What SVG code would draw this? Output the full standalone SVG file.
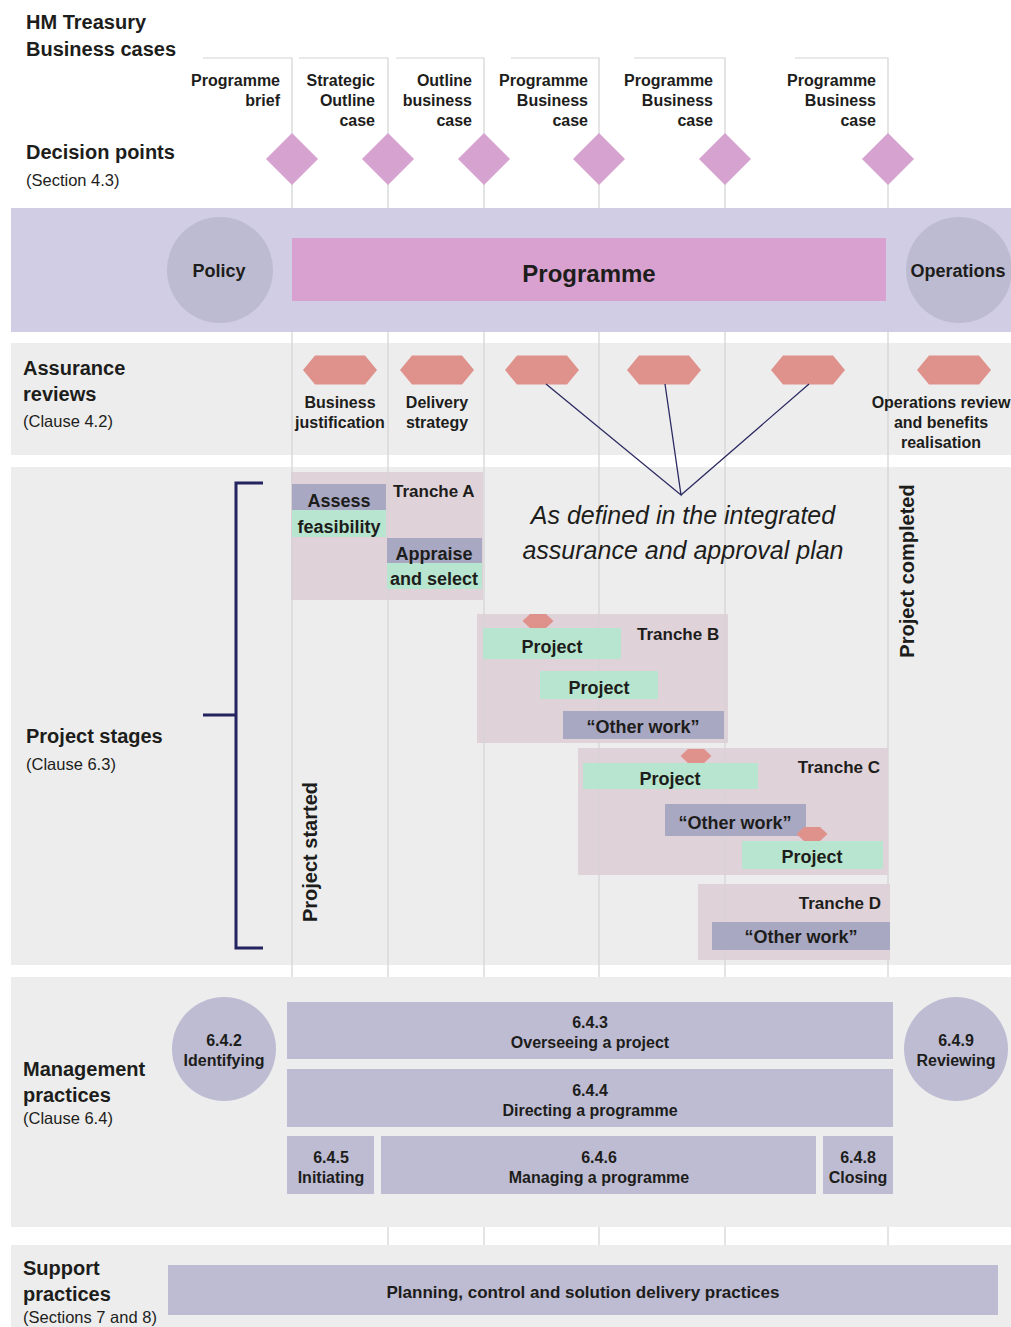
<svg xmlns="http://www.w3.org/2000/svg" width="1011" height="1327" viewBox="0 0 1011 1327">
<style>
text{font-family:"Liberation Sans",Arial,sans-serif;fill:#1d1d1b}
.h{font-size:20px;font-weight:bold}
.sub{font-size:16.5px}
.col{font-size:16px;font-weight:bold;text-anchor:end}
.lbl{font-size:16px;font-weight:bold;text-anchor:middle}
.box{font-size:18px;font-weight:bold;text-anchor:middle}
.tr{font-size:17px;font-weight:bold}
.band{fill:#ededed}
.grid{stroke:#d3d3d3;stroke-width:1.2;fill:none}
.dia{fill:#d6a2cf}
.hex{fill:#df928b}
.tranche{fill:#e0d2d9}
.grey{fill:#a9a8c3}
.green{fill:#b8e5cf}
.mg{fill:#bebcd3}
.circ{fill:#bdbbd1}
</style>
<defs>
<polygon id="hx" points="-37,0 -25,-14.5 25,-14.5 37,0 25,14.5 -25,14.5"/>
<polygon id="hxs" points="-15.5,0 -8,-7 8,-7 15.5,0 8,7 -8,7"/>
<polygon id="dm" points="0,-26 26,0 0,26 -26,0"/>
</defs>

<!-- band backgrounds under grid -->
<rect class="band" x="11" y="343" width="1000" height="112"/>
<rect class="band" x="11" y="467" width="1000" height="498"/>

<g id="grid">
<path class="grid" d="M203,58H292V977M299,58H388V1245M396,58H484V1245M511,58H599V1245M634,58H725V1245M795,58H888V1245"/>
</g>

<!-- headings -->
<g id="headings">
<text class="h" x="26" y="29">HM Treasury</text>
<text class="h" x="26" y="56">Business cases</text>
<text class="h" x="26" y="159">Decision points</text>
<text class="sub" x="26" y="186">(Section 4.3)</text>
</g>

<g id="business-cases">
<text class="col" x="280" y="86">Programme</text><text class="col" x="280" y="106">brief</text>
<text class="col" x="375" y="86">Strategic</text><text class="col" x="375" y="106">Outline</text><text class="col" x="375" y="126">case</text>
<text class="col" x="472" y="86">Outline</text><text class="col" x="472" y="106">business</text><text class="col" x="472" y="126">case</text>
<text class="col" x="588" y="86">Programme</text><text class="col" x="588" y="106">Business</text><text class="col" x="588" y="126">case</text>
<text class="col" x="713" y="86">Programme</text><text class="col" x="713" y="106">Business</text><text class="col" x="713" y="126">case</text>
<text class="col" x="876" y="86">Programme</text><text class="col" x="876" y="106">Business</text><text class="col" x="876" y="126">case</text>
</g>

<g id="decision-points">
<use href="#dm" class="dia" x="292" y="159"/>
<use href="#dm" class="dia" x="388" y="159"/>
<use href="#dm" class="dia" x="484" y="159"/>
<use href="#dm" class="dia" x="599" y="159"/>
<use href="#dm" class="dia" x="725" y="159"/>
<use href="#dm" class="dia" x="888" y="159"/>
</g>

<!-- Programme band -->
<g id="programme-band">
<rect x="11" y="208" width="1000" height="124" fill="#d0cde5"/>
<circle class="circ" cx="220" cy="270" r="53"/>
<text x="219" y="277" font-size="18" font-weight="bold" text-anchor="middle">Policy</text>
<rect x="292" y="238" width="594" height="63" fill="#d8a1cf"/>
<text x="589" y="282" font-size="24" font-weight="bold" text-anchor="middle">Programme</text>
<circle class="circ" cx="959" cy="270" r="53"/>
<text x="958" y="277" font-size="18" font-weight="bold" text-anchor="middle">Operations</text>
</g>

<!-- Assurance -->
<g id="assurance">
<text class="h" x="23" y="375">Assurance</text>
<text class="h" x="23" y="401">reviews</text>
<text class="sub" x="23" y="427">(Clause 4.2)</text>
<use href="#hx" class="hex" x="340" y="370"/>
<use href="#hx" class="hex" x="437" y="370"/>
<use href="#hx" class="hex" x="542" y="370"/>
<use href="#hx" class="hex" x="664" y="370"/>
<use href="#hx" class="hex" x="808" y="370"/>
<use href="#hx" class="hex" x="954" y="370"/>
<text class="lbl" x="340" y="408">Business</text><text class="lbl" x="340" y="428">justification</text>
<text class="lbl" x="437" y="408">Delivery</text><text class="lbl" x="437" y="428">strategy</text>
<text class="lbl" x="941" y="408">Operations review</text><text class="lbl" x="941" y="428">and benefits</text><text class="lbl" x="941" y="448">realisation</text>
</g>

<g id="connectors" stroke="#2b2a62" stroke-width="1.3" fill="none">
<path d="M546,384L681,495L665,384M681,495L809,384"/>
</g>

<!-- Project stages -->
<g id="project-stages">
<text class="h" x="26" y="743">Project stages</text>
<text class="sub" x="26" y="770">(Clause 6.3)</text>
<path d="M263,483H236V948H263M203,715H236" stroke="#23235f" stroke-width="3" fill="none"/>
<text x="317" y="852" transform="rotate(-90 317 852)" font-size="20" font-weight="bold" text-anchor="middle">Project started</text>
<text x="914" y="571" transform="rotate(-90 914 571)" font-size="20" font-weight="bold" text-anchor="middle">Project completed</text>
<text x="683" y="524" font-size="25" font-style="italic" text-anchor="middle" fill="#2a2a2a">As defined in the integrated</text>
<text x="683" y="559" font-size="25" font-style="italic" text-anchor="middle" fill="#2a2a2a">assurance and approval plan</text>
</g>

<g id="tranche-a">
<rect class="tranche" x="291" y="472" width="192" height="128"/>
<path class="grid" d="M292,472V600M388,472V600" stroke-opacity="0.6"/>
<rect class="grey" x="292" y="484" width="94" height="26"/>
<rect class="green" x="292" y="510" width="94" height="27"/>
<rect class="grey" x="387" y="538" width="95" height="25"/>
<rect class="green" x="387" y="563" width="95" height="26"/>
<text class="tr" x="393" y="497">Tranche A</text>
<text class="box" x="339" y="507">Assess</text>
<text class="box" x="339" y="533">feasibility</text>
<text class="box" x="434" y="560">Appraise</text>
<text class="box" x="434" y="585">and select</text>
</g>

<g id="tranche-b">
<rect class="tranche" x="477" y="614" width="251" height="129"/>
<path class="grid" d="M484,614V743M599,614V743M725,614V743" stroke-opacity="0.6"/>
<rect class="green" x="483" y="628" width="138" height="31"/>
<rect class="green" x="540" y="671" width="118" height="28"/>
<rect class="grey" x="563" y="711" width="161" height="28"/>
<use href="#hxs" class="hex" x="538" y="621"/>
<text class="tr" x="637" y="640">Tranche B</text>
<text class="box" x="552" y="653">Project</text>
<text class="box" x="599" y="694">Project</text>
<text class="box" x="643" y="733">“Other work”</text>
</g>

<g id="tranche-c">
<rect class="tranche" x="578" y="748" width="310" height="127"/>
<path class="grid" d="M599,748V875M725,748V875" stroke-opacity="0.6"/>
<rect class="green" x="583" y="763" width="175" height="26"/>
<rect class="grey" x="665" y="804" width="141" height="32"/>
<rect class="green" x="742" y="841" width="141" height="28"/>
<use href="#hxs" class="hex" x="696" y="756"/>
<use href="#hxs" class="hex" x="812" y="834"/>
<text class="tr" x="880" y="773" text-anchor="end">Tranche C</text>
<text class="box" x="670" y="785">Project</text>
<text class="box" x="735" y="829">“Other work”</text>
<text class="box" x="812" y="863">Project</text>
</g>

<g id="tranche-d">
<rect class="tranche" x="698" y="884" width="192" height="76"/>
<path class="grid" d="M725,884V960" stroke-opacity="0.6"/>
<rect class="grey" x="712" y="922" width="178" height="28"/>
<text class="tr" x="881" y="909" text-anchor="end">Tranche D</text>
<text class="box" x="801" y="943">“Other work”</text>
</g>

<!-- Management practices -->
<g id="management">
<rect class="band" x="11" y="977" width="1000" height="250"/>
<text class="h" x="23" y="1076">Management</text>
<text class="h" x="23" y="1102">practices</text>
<text class="sub" x="23" y="1124">(Clause 6.4)</text>
<circle class="mg" cx="224" cy="1049" r="52"/>
<text class="lbl" x="224" y="1046">6.4.2</text><text class="lbl" x="224" y="1066">Identifying</text>
<rect class="mg" x="287" y="1002" width="606" height="57"/>
<text class="lbl" x="590" y="1028">6.4.3</text><text class="lbl" x="590" y="1048">Overseeing a project</text>
<rect class="mg" x="287" y="1069" width="606" height="58"/>
<text class="lbl" x="590" y="1096">6.4.4</text><text class="lbl" x="590" y="1116">Directing a programme</text>
<rect class="mg" x="287" y="1136" width="87" height="58"/>
<text class="lbl" x="331" y="1163">6.4.5</text><text class="lbl" x="331" y="1183">Initiating</text>
<rect class="mg" x="381" y="1136" width="435" height="58"/>
<text class="lbl" x="599" y="1163">6.4.6</text><text class="lbl" x="599" y="1183">Managing a programme</text>
<rect class="mg" x="823" y="1136" width="70" height="58"/>
<text class="lbl" x="858" y="1163">6.4.8</text><text class="lbl" x="858" y="1183">Closing</text>
<circle class="mg" cx="956" cy="1049" r="52"/>
<text class="lbl" x="956" y="1046">6.4.9</text><text class="lbl" x="956" y="1066">Reviewing</text>
</g>

<!-- Support practices -->
<g id="support">
<rect class="band" x="11" y="1245" width="1000" height="82"/>
<text class="h" x="23" y="1275">Support</text>
<text class="h" x="23" y="1301">practices</text>
<text class="sub" x="23" y="1323">(Sections 7 and 8)</text>
<rect class="mg" x="168" y="1265" width="830" height="50"/>
<text x="583" y="1298" font-size="17" font-weight="bold" text-anchor="middle">Planning, control and solution delivery practices</text>
</g>
</svg>
